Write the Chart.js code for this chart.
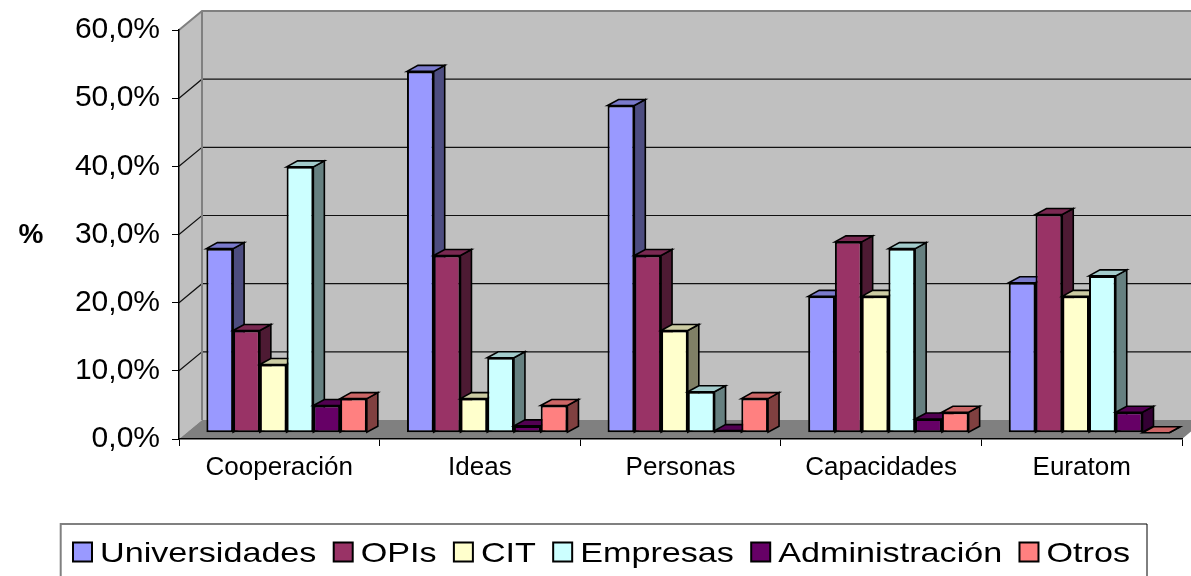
<!DOCTYPE html>
<html>
<head>
<meta charset="utf-8">
<script src="https://cdn.jsdelivr.net/npm/chart.js@4/dist/chart.umd.min.js"></script>
<style>
  html,body{margin:0;padding:0;background:#fff;}
  canvas{display:block;}
</style>
</head>
<body>
<canvas id="c" width="1191" height="576" style="width:1191px;height:576px"></canvas>
<script>
// datos
const categories = ['Cooperación','Ideas','Personas','Capacidades','Euratom'];
const seriesNames = ['Universidades','OPIs','CIT','Empresas','Administración','Otros'];
const universidades  = [27, 53, 48, 20, 22];
const opis           = [15, 26, 26, 28, 32];
const cit            = [10,  5, 15, 20, 20];
const empresas       = [39, 11,  6, 27, 23];
const administracion = [ 4,  1, 0.3, 2,  3];
const otros          = [ 5,  4,  5,  3,  0];
const yTicks = [0, 10, 20, 30, 40, 50, 60];
const colors = ['#9999FF','#993366','#FFFFCC','#CCFFFF','#660066','#FF8080'];

const FONT = "'Liberation Sans', Arial, sans-serif";
// 3D offsets (pseudo perspectiva estilo Excel)
const WALL_DX = 23, WALL_DY = -19;   // pared de fondo
const BAR_DX = 7.3, BAR_DY = -6.3;   // plano frontal de las barras
const DEPTH_DX = 11, DEPTH_DY = -6;  // profundidad de cada barra

function shade(hex, f){
  const n = parseInt(hex.slice(1), 16);
  const r = Math.round(((n>>16)&255)*f), g = Math.round(((n>>8)&255)*f), b = Math.round((n&255)*f);
  return `rgb(${r},${g},${b})`;
}
const fmt = v => v.toFixed(1).replace('.', ',') + '%';

const seriesData = [universidades, opis, cit, empresas, administracion, otros];

function drawFaces(ctx, meta, i){
  const col = colors[i];
  ctx.save();
  ctx.strokeStyle = '#000'; ctx.lineWidth = 1.6; ctx.lineJoin = 'miter';
  meta.data.forEach(el=>{
    const {x, y, base, width} = el.getProps(['x','y','base','width'], true);
    const x0 = x - width/2, x1 = x + width/2;
    // lateral
    ctx.fillStyle = shade(col, 0.5);
    ctx.beginPath();
    ctx.moveTo(x1, y); ctx.lineTo(x1+DEPTH_DX, y+DEPTH_DY);
    ctx.lineTo(x1+DEPTH_DX, base+DEPTH_DY); ctx.lineTo(x1, base); ctx.closePath();
    ctx.fill(); ctx.stroke();
    // tapa
    ctx.fillStyle = shade(col, 0.8);
    ctx.beginPath();
    ctx.moveTo(x0, y); ctx.lineTo(x0+DEPTH_DX, y+DEPTH_DY);
    ctx.lineTo(x1+DEPTH_DX, y+DEPTH_DY); ctx.lineTo(x1, y); ctx.closePath();
    ctx.fill(); ctx.stroke();
  });
  ctx.restore();
}

const excel3d = {
  id: 'excel3d',
  beforeDraw(chart){
    const {ctx, chartArea:a, scales:{y}} = chart;
    const W = chart.width;
    ctx.save();
    ctx.fillStyle = '#fff'; ctx.fillRect(0, 0, W, chart.height);
    const top = y.getPixelForValue(yTicks[yTicks.length-1]);
    const bot = y.getPixelForValue(0);
    // pared lateral
    ctx.fillStyle = '#C0C0C0';
    ctx.beginPath();
    ctx.moveTo(a.left, top); ctx.lineTo(a.left+WALL_DX, top+WALL_DY);
    ctx.lineTo(a.left+WALL_DX, bot+WALL_DY); ctx.lineTo(a.left, bot); ctx.closePath(); ctx.fill();
    // pared de fondo
    ctx.fillRect(a.left+WALL_DX, top+WALL_DY, W, bot-top);
    // rejilla
    ctx.strokeStyle = '#111'; ctx.lineWidth = 1.2;
    yTicks.slice(1, -1).forEach(v=>{
      const py = y.getPixelForValue(v);
      ctx.beginPath();
      ctx.moveTo(a.left, py); ctx.lineTo(a.left+WALL_DX, py+WALL_DY);
      ctx.lineTo(W, py+WALL_DY); ctx.stroke();
    });
    // suelo
    ctx.fillStyle = '#808080';
    ctx.beginPath();
    ctx.moveTo(a.left, bot); ctx.lineTo(a.right, bot);
    ctx.lineTo(a.right+WALL_DX, bot+WALL_DY); ctx.lineTo(a.left+WALL_DX, bot+WALL_DY);
    ctx.closePath(); ctx.fill();
    // bordes
    ctx.strokeStyle = '#808080'; ctx.lineWidth = 2;
    ctx.beginPath();
    ctx.moveTo(a.left, top); ctx.lineTo(a.left+WALL_DX, top+WALL_DY); ctx.lineTo(W, top+WALL_DY);
    ctx.moveTo(a.left+WALL_DX, top+WALL_DY); ctx.lineTo(a.left+WALL_DX, bot+WALL_DY);
    ctx.stroke();
    ctx.restore();
  },
  // dibuja las series de izquierda a derecha para que se tapen bien
  beforeDatasetsDraw(chart){
    const ctx = chart.ctx;
    ctx.save();
    ctx.translate(BAR_DX, BAR_DY);
    chart.data.datasets.forEach((ds, i)=>{
      const meta = chart.getDatasetMeta(i);
      meta.controller.draw();
      drawFaces(ctx, meta, i);
    });
    ctx.restore();
  },
  beforeDatasetDraw(){ return false; },
  afterDraw(chart){
    const ctx = chart.ctx;
    ctx.save();
    // titulo eje "%"
    ctx.fillStyle = '#000';
    ctx.font = `bold 28px ${FONT}`;
    ctx.textAlign = 'center'; ctx.textBaseline = 'middle';
    ctx.fillText('%', 31, 235);
    // leyenda
    const L = 60.7, T = 524, R = 1147;
    ctx.lineWidth = 2; ctx.strokeStyle = '#808080';
    ctx.beginPath(); ctx.moveTo(L, chart.height); ctx.lineTo(L, T); ctx.lineTo(R, T); ctx.stroke();
    ctx.lineWidth = 1; ctx.strokeStyle = '#000';
    ctx.beginPath(); ctx.moveTo(R, T); ctx.lineTo(R, chart.height); ctx.stroke();
    ctx.font = `28px ${FONT}`;
    ctx.textAlign = 'left'; ctx.textBaseline = 'alphabetic';
    const sx = 1.22; // texto algo ensanchado como en el original
    const box = 19, gapIn = 8, start = 73, end = 1130;
    const widths = seriesNames.map(s=>ctx.measureText(s).width*sx);
    const used = widths.reduce((s,w)=>s+w, 0) + seriesNames.length*(box+gapIn);
    const gap = (end - start - used) / (seriesNames.length-1);
    let cx = start;
    seriesNames.forEach((s, i)=>{
      ctx.fillStyle = colors[i];
      ctx.fillRect(cx, 542.5, box, box);
      ctx.lineWidth = 2; ctx.strokeStyle = '#000';
      ctx.strokeRect(cx, 542.5, box, box);
      ctx.fillStyle = '#000';
      ctx.save();
      ctx.translate(cx+box+gapIn, 562);
      ctx.scale(sx, 1);
      ctx.fillText(s, 0, 0);
      ctx.restore();
      cx += box + gapIn + widths[i] + gap;
    });
    ctx.restore();
  }
};

new Chart(document.getElementById('c'), {
  type: 'bar',
  data: {
    labels: categories,
    datasets: seriesNames.map((name, i)=>({
      label: name,
      data: seriesData[i],
      backgroundColor: colors[i],
      borderColor: '#000',
      borderWidth: 2,
      borderSkipped: false,
      clip: false
    }))
  },
  options: {
    responsive: false,
    animation: false,
    events: [],
    layout: { padding: { top: 26, right: 9, left: 0, bottom: 0 } },
    datasets: { bar: { categoryPercentage: 0.8, barPercentage: 1.0 } },
    plugins: { legend: { display: false }, tooltip: { enabled: false } },
    scales: {
      x: {
        offset: true,
        afterFit: s => { s.height = 576 - 439; },
        grid: { offset: true, drawOnChartArea: false, drawTicks: true, tickLength: 7, color: '#000' },
        border: { display: true, color: '#000', width: 1.5 },
        ticks: { color: '#000', font: { family: FONT, size: 26 }, padding: 6, maxRotation: 0 }
      },
      y: {
        min: 0, max: 60,
        afterFit: s => { s.width = 179; },
        afterBuildTicks: s => { s.ticks = yTicks.map(v=>({value: v})); },
        grid: { drawOnChartArea: false, drawTicks: true, tickLength: 7, color: '#000' },
        border: { display: true, color: '#000', width: 1.5 },
        ticks: { color: '#000', font: { family: FONT, size: 30 }, padding: 12, callback: v => fmt(v) }
      }
    }
  },
  plugins: [excel3d]
});
</script>
</body>
</html>
